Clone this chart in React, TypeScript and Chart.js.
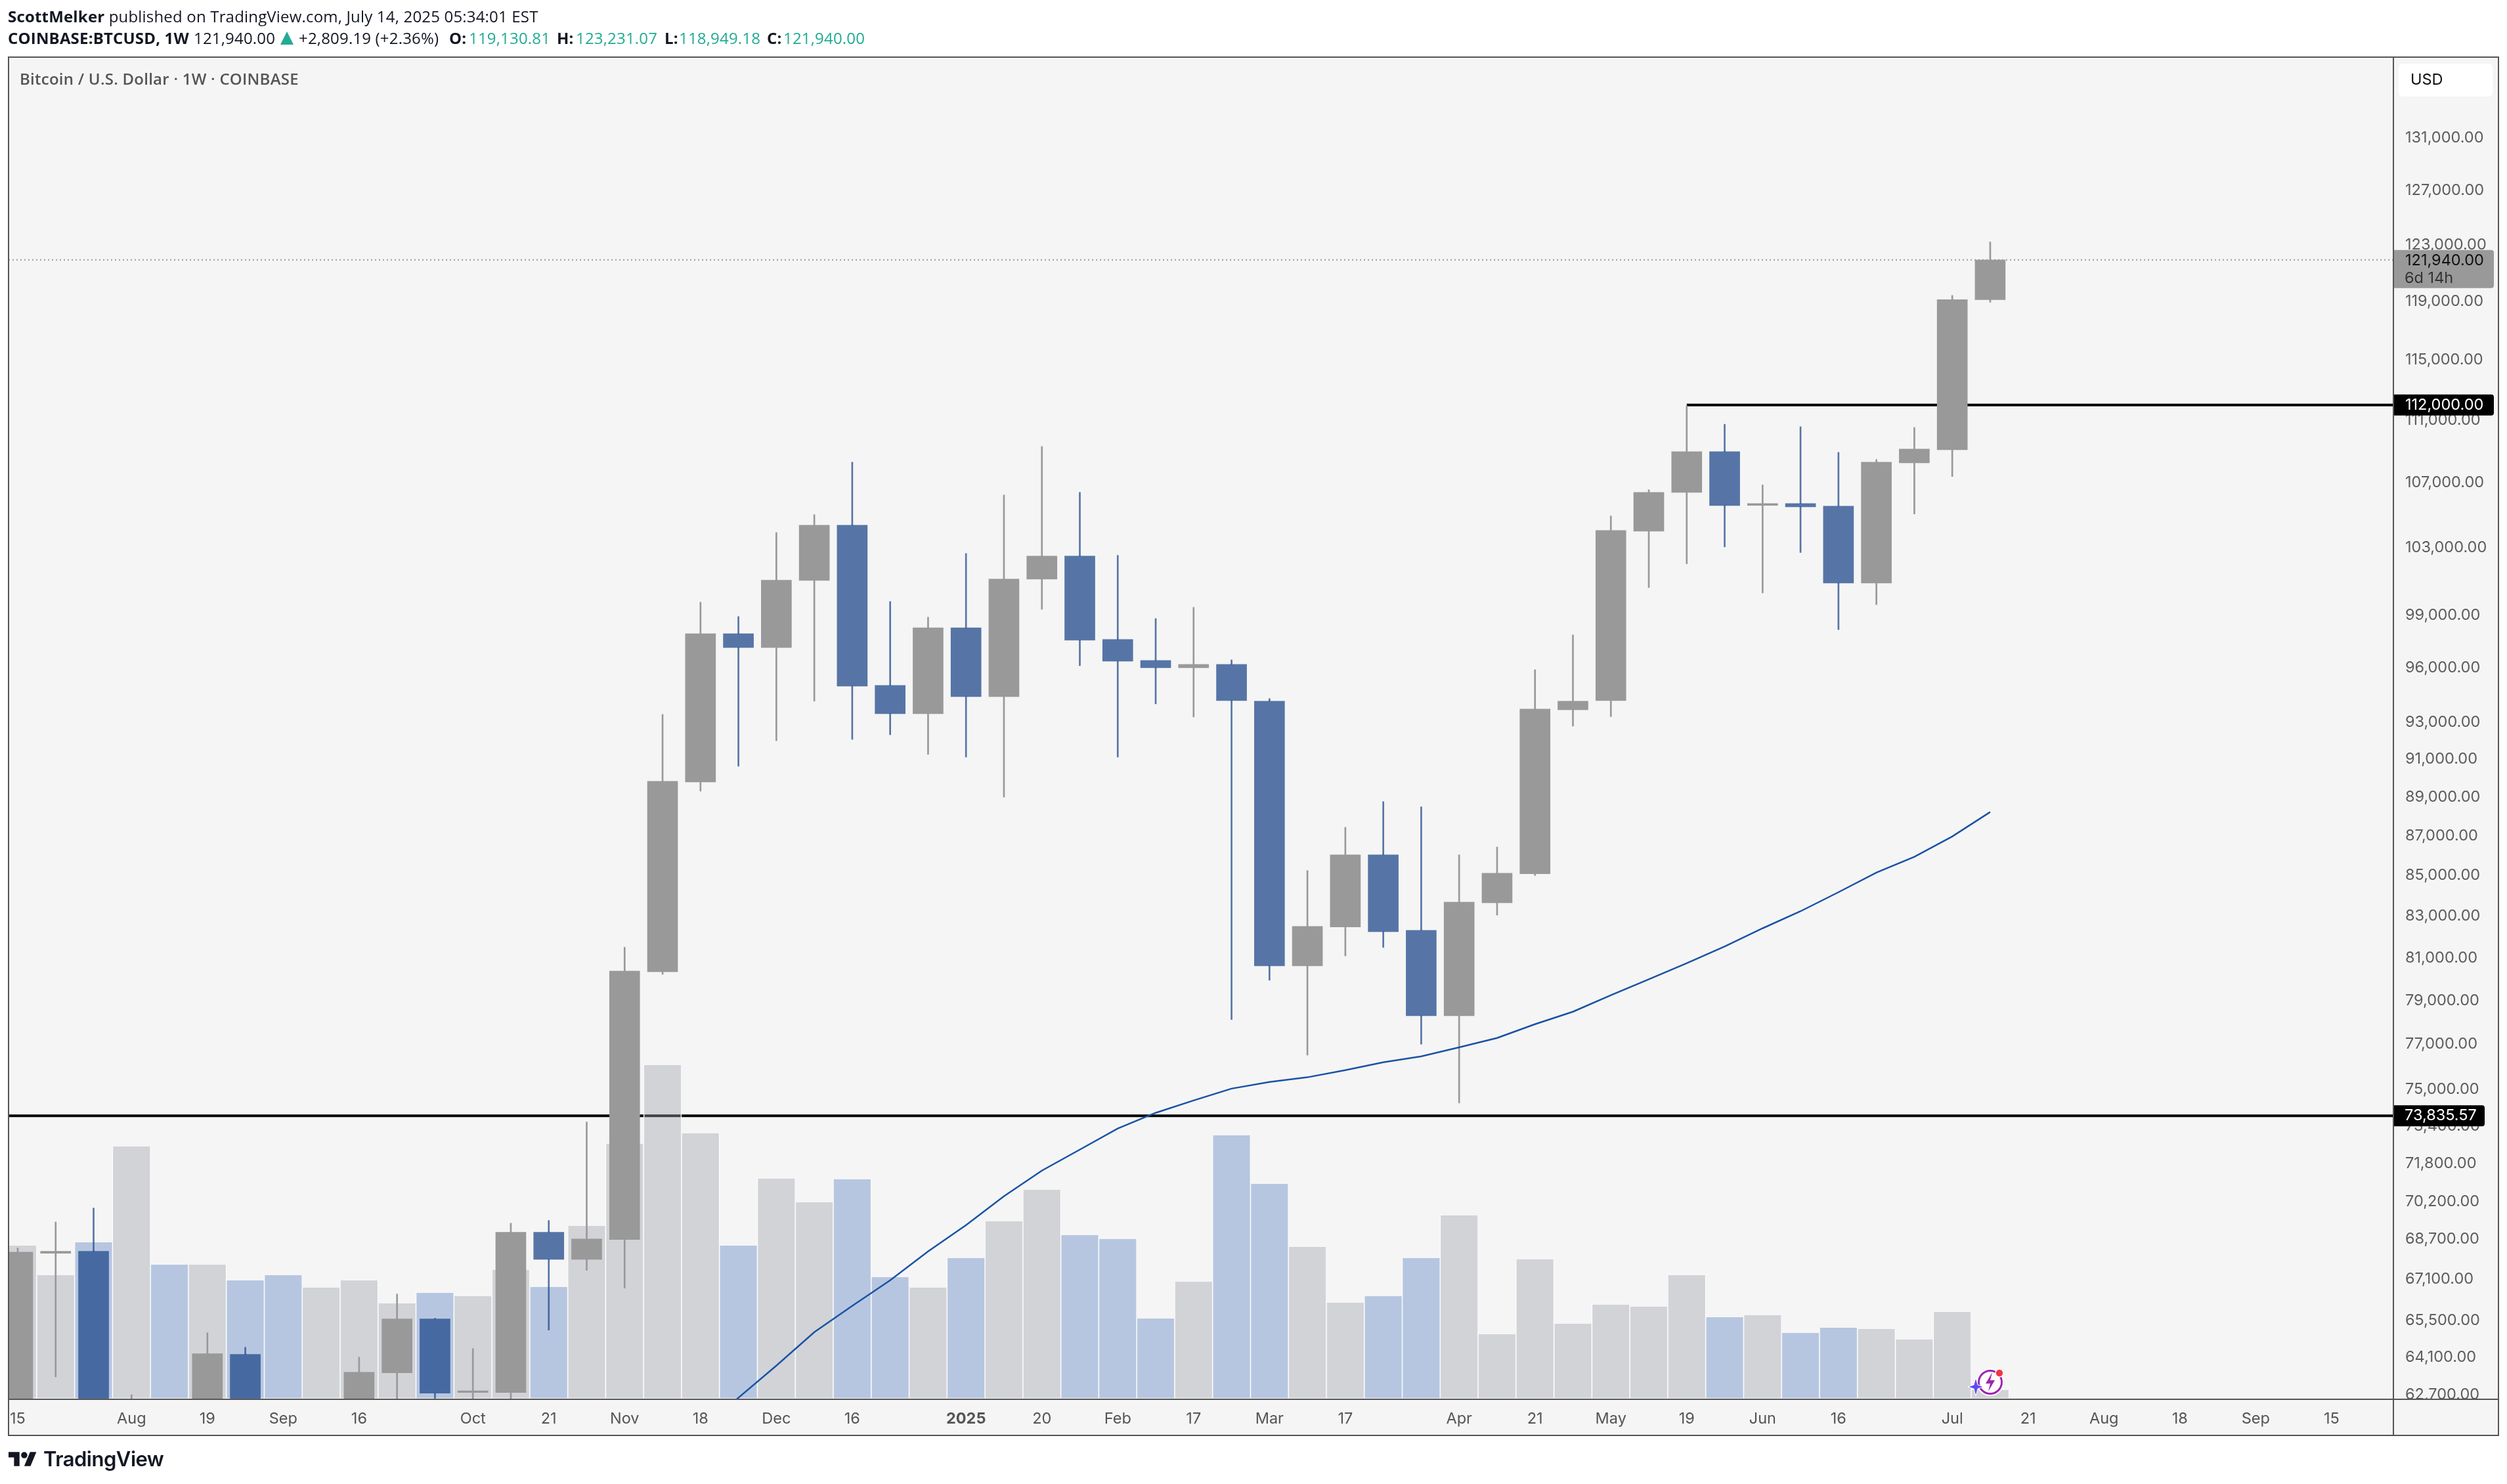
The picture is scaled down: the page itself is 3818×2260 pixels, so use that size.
import { useEffect, useRef } from "react"
import { Chart, registerables } from "chart.js"

Chart.register(...registerables)

// weekly BTCUSD candles, first one is Jul 15 2024, last one Jul 14 2025
const opens = [60800, 68115, 68195, 58700, 58900, 58700, 64196, 57300, 54150, 60000, 63506, 65545, 62780, 62780, 68962, 67875, 68670, 80340, 89793, 97945, 97156, 101050, 104377, 95018, 93459, 98290, 94399, 101130, 102505, 97613, 96418, 96012, 96195, 94145, 80620, 82474, 86040, 82313, 78295, 83655, 85090, 93675, 94181, 104016, 106407, 108975, 105593, 105715, 105550, 100896, 108265, 109098, 119130.81]
const highs = [68330, 69380, 69949, 62700, 61800, 65016, 64467, 59800, 60600, 64096, 66509, 65570, 64418, 69329, 69440, 73567, 81502, 93422, 99773, 98935, 103931, 105026, 108309, 99813, 98900, 102663, 106245, 109310, 106407, 102550, 98822, 99470, 96456, 94291, 85249, 87440, 88764, 88494, 86040, 86435, 95900, 97875, 104945, 106572, 111945, 110740, 106870, 110580, 108930, 108476, 110535, 119427, 123231.07]
const lows = [60600, 63358, 57100, 49100, 56100, 57800, 57100, 52500, 53600, 59200, 62000, 59900, 58900, 62000, 65117, 67438, 66741, 80217, 89312, 90625, 91991, 94145, 92062, 92313, 91256, 91113, 89000, 99355, 96127, 91113, 94000, 93281, 78117, 79941, 76509, 81090, 81492, 77000, 74390, 83050, 85000, 92780, 93300, 100630, 102040, 103060, 100316, 102720, 98180, 99630, 105066, 107400, 118949.18]
const closes = [68165, 68195, 58700, 58900, 58700, 64221, 57300, 54150, 60000, 63530, 65545, 62755, 62840, 68962, 67875, 68690, 80370, 89825, 97945, 97156, 101069, 104377, 94982, 93459, 98290, 94399, 101130, 102505, 97576, 96381, 96012, 96195, 94181, 80620, 82506, 86040, 82250, 78295, 83687, 85120, 93711, 94145, 104056, 106407, 108975, 105590, 105715, 105510, 100896, 108310, 109140, 119130, 121940]
const volumes = [234, 189, 239, 385, 205, 205, 181, 189, 170, 181, 146, 162, 157, 197, 171, 264, 389, 509, 405, 234, 336, 300, 335, 186, 170, 215, 271, 319, 250, 244, 123, 179, 402, 328, 232, 147, 157, 215, 280, 99, 213, 115, 144, 141, 189, 125, 128, 101, 109, 107, 91, 133, 14]

// moving average, starts at candle 18 (below the visible range until candle 19)
const maStart = 18
const maValues = [61375, 62587, 63777, 65041, 66050, 67050, 68193, 69252, 70435, 71499, 72385, 73285, 73964, 74503, 75020, 75312, 75520, 75836, 76187, 76450, 76860, 77280, 77907, 78480, 79240, 79985, 80740, 81540, 82411, 83240, 84174, 85150, 85940, 86970, 88226]

const priceTicks = [131000, 127000, 123000, 119000, 115000, 111000, 107000, 103000, 99000, 96000, 93000, 91000, 89000, 87000, 85000, 83000, 81000, 79000, 77000, 75000, 73400, 71800, 70200, 68700, 67100, 65500, 64100, 62700]
const timeTickIndex = [0, 3, 5, 7, 9, 12, 14, 16, 18, 20, 22, 25, 27, 29, 31, 33, 35, 38, 40, 42, 44, 46, 48, 51, 53, 55, 57, 59, 61]
const timeTickLabels = ["15", "Aug", "19", "Sep", "16", "Oct", "21", "Nov", "18", "Dec", "16", "2025", "20", "Feb", "17", "Mar", "17", "Apr", "21", "May", "19", "Jun", "16", "Jul", "21", "Aug", "18", "Sep", "15"]

const lastPrice = 121940
const upperLevel = 112000
const upperLevelStart = 44
const lowerLevel = 73835.57

const xMin = -0.242
const xMax = 62.63
const yMin = 62530
const yMax = 137330

const GRAY = "#999999"
const BLUE = "rgba(27, 70, 137, 0.73)"
const VOL_GRAY = "rgba(157, 160, 170, 0.4)"
const VOL_BLUE = "rgba(90, 127, 192, 0.4)"
const FRAME = "#555555"
const AXIS_FONT = "Inter, sans-serif"
const AXIS_SIZE = 23.5

const money = (v: number) =>
  v.toLocaleString("en-US", { minimumFractionDigits: 2, maximumFractionDigits: 2 })

function roundBox(ctx: CanvasRenderingContext2D, x: number, y: number, w: number, h: number, fill: string) {
  ctx.fillStyle = fill
  ctx.beginPath()
  ctx.roundRect(x, y, w, h, [0, 4, 4, 0])
  ctx.fill()
}

// background, frame and the price badges
const framePlugin = {
  id: "frame",
  beforeDraw(chart: Chart) {
    const { ctx } = chart
    ctx.save()
    ctx.fillStyle = "#f5f5f5"
    ctx.fillRect(13, 87, 3792, 2099)
    ctx.restore()
  },
  afterDraw(chart: Chart) {
    const { ctx, chartArea: a, scales } = chart
    const y = scales.y
    ctx.save()

    // covers the bottom of the lowest price label
    ctx.fillStyle = "#f5f5f5"
    ctx.fillRect(a.right + 2, a.bottom, 150, 12)

    ctx.strokeStyle = FRAME
    ctx.lineWidth = 2
    ctx.strokeRect(13, 87, 3792, 2099)
    ctx.beginPath()
    ctx.moveTo(a.right, 87)
    ctx.lineTo(a.right, 2186)
    ctx.moveTo(13, a.bottom)
    ctx.lineTo(3805, a.bottom)
    ctx.stroke()

    ctx.font = `${AXIS_SIZE}px ${AXIS_FONT}`
    ctx.textBaseline = "middle"
    ctx.textAlign = "left"

    const lastY = y.getPixelForValue(lastPrice)
    roundBox(ctx, a.right + 1, lastY - 15, 152, 58, "#999999")
    ctx.fillStyle = "#111111"
    ctx.fillText(money(lastPrice), a.right + 18, lastY + 1)
    ctx.fillStyle = "#333333"
    ctx.fillText("6d 14h", a.right + 17, lastY + 28)

    const upperY = y.getPixelForValue(upperLevel)
    roundBox(ctx, a.right + 1, upperY - 16, 152, 32, "#000000")
    ctx.fillStyle = "#ffffff"
    ctx.fillText(money(upperLevel), a.right + 18, upperY)

    const lowerY = y.getPixelForValue(lowerLevel)
    roundBox(ctx, a.right + 1, lowerY - 16, 138, 32, "#000000")
    ctx.fillStyle = "#ffffff"
    ctx.fillText(money(lowerLevel), a.right + 17, lowerY)

    // currency box
    ctx.fillStyle = "#ffffff"
    ctx.beginPath()
    ctx.roundRect(3653, 97, 143, 50, 6)
    ctx.fill()
    ctx.fillStyle = "#111111"
    ctx.fillText("USD", 3671, 122)
    ctx.restore()
  },
}

function CandleChart() {
  const canvasRef = useRef<HTMLCanvasElement>(null)

  useEffect(() => {
    if (!canvasRef.current) return

    const index = opens.map((_, i) => i)
    const candleColor = index.map((i) => (closes[i] >= opens[i] ? GRAY : BLUE))
    const volumeColor = index.map((i) => (closes[i] >= opens[i] ? VOL_GRAY : VOL_BLUE))

    const chart = new Chart(canvasRef.current, {
      type: "bar",
      data: {
        datasets: [
          {
            type: "line",
            data: [{ x: xMin, y: lastPrice }, { x: xMax, y: lastPrice }],
            borderColor: GRAY,
            borderWidth: 2,
            borderDash: [2, 4],
            pointRadius: 0,
            order: 7,
          },
          {
            type: "line",
            data: [{ x: xMin, y: lowerLevel }, { x: xMax, y: lowerLevel }],
            borderColor: "#000000",
            borderWidth: 4,
            pointRadius: 0,
            order: 6,
          },
          {
            type: "line",
            data: [{ x: upperLevelStart, y: upperLevel }, { x: xMax, y: upperLevel }],
            borderColor: "#000000",
            borderWidth: 4,
            pointRadius: 0,
            order: 6,
          },
          {
            type: "bar",
            yAxisID: "y2",
            data: index.map((i) => ({ x: i, y: volumes[i] })),
            backgroundColor: volumeColor,
            borderColor: "#ffffff",
            borderWidth: { left: 1, right: 1, bottom: 2, top: 0 },
            borderSkipped: false,
            barThickness: 57.77,
            grouped: false,
            order: 5,
          },
          // wicks are split so the see-through blue does not double up inside the body
          {
            type: "bar",
            data: index.map((i) => ({ x: i, y: [Math.max(opens[i], closes[i]), highs[i]] })),
            backgroundColor: candleColor,
            barThickness: 2,
            grouped: false,
            order: 4,
          },
          {
            type: "bar",
            data: index.map((i) => ({ x: i, y: [lows[i], Math.min(opens[i], closes[i])] })),
            backgroundColor: candleColor,
            barThickness: 2,
            grouped: false,
            order: 4,
          },
          {
            type: "bar",
            data: index.map((i) => ({ x: i, y: [opens[i], closes[i]] })),
            backgroundColor: candleColor,
            barThickness: 46,
            grouped: false,
            order: 3,
          },
          {
            type: "line",
            data: maValues.map((v, i) => ({ x: maStart + i, y: v })),
            borderColor: "#1a52a5",
            borderWidth: 2.5,
            pointRadius: 0,
            tension: 0,
            order: 1,
          },
        ],
      },
      options: {
        animation: false,
        responsive: false,
        layout: { padding: { left: 13, top: 87, right: 13, bottom: 74 } },
        plugins: { legend: { display: false }, tooltip: { enabled: false } },
        scales: {
          x: {
            type: "linear",
            offset: false,
            min: xMin,
            max: xMax,
            grid: { display: false },
            border: { display: false },
            afterBuildTicks: (scale) => {
              scale.ticks = timeTickIndex.map((value) => ({ value }))
            },
            afterFit: (scale) => {
              scale.height = 55
            },
            ticks: {
              autoSkip: false,
              maxRotation: 0,
              padding: 8,
              color: "#555555",
              font: (ctx) => ({
                family: AXIS_FONT,
                size: AXIS_SIZE,
                weight: ctx.tick && ctx.tick.label === "2025" ? "bold" : "normal",
              }),
              callback: (_value, i) => timeTickLabels[i],
            },
          },
          y: {
            type: "logarithmic",
            position: "right",
            min: yMin,
            max: yMax,
            grid: { display: false },
            border: { display: false },
            afterBuildTicks: (scale) => {
              scale.ticks = priceTicks.map((value) => ({ value }))
            },
            afterFit: (scale) => {
              scale.width = 160
            },
            ticks: {
              autoSkip: false,
              padding: 10,
              color: "#5e5e5e",
              font: { family: AXIS_FONT, size: AXIS_SIZE },
              callback: (value) => money(Number(value)),
            },
          },
          y2: {
            display: false,
            min: 0,
            max: 2044,
          },
        },
      },
      plugins: [framePlugin],
    })

    return () => {
      chart.destroy()
    }
  }, [])

  return <canvas ref={canvasRef} width={3818} height={2260} style={{ position: "absolute", left: 0, top: 0 }} />
}

const headerFont = "'Open Sans', sans-serif"
const teal = "#22ab94"

// second header row, each piece sits at its own x
const quoteRow = [
  { x: 12, text: "COINBASE:BTCUSD, 1W", bold: true },
  { x: 295, text: "121,940.00" },
  { x: 455, text: "+2,809.19 (+2.36%)" },
  { x: 684, text: "O:", bold: true },
  { x: 714, text: "119,130.81", teal: true },
  { x: 848, text: "H:", bold: true },
  { x: 877, text: "123,231.07", teal: true },
  { x: 1012, text: "L:", bold: true },
  { x: 1034, text: "118,949.18", teal: true },
  { x: 1168, text: "C:", bold: true },
  { x: 1193, text: "121,940.00", teal: true },
]

export default function App() {
  return (
    <div style={{ position: "absolute", left: 0, top: 0, width: 3818, height: 2260, background: "#ffffff", overflow: "hidden" }}>
      <CandleChart />
      <div style={{ position: "absolute", left: 12, top: 8, fontFamily: headerFont, fontSize: 24, letterSpacing: 0.18, color: "#131722", whiteSpace: "nowrap" }}>
        <b>ScottMelker</b> published on TradingView.com, July 14, 2025 05:34:01 EST
      </div>
      {quoteRow.map((p) => (
        <span
          key={p.x}
          style={{
            position: "absolute",
            left: p.x,
            top: 41,
            fontFamily: headerFont,
            fontSize: 24,
            letterSpacing: 0.18,
            fontWeight: p.bold ? 700 : 400,
            color: p.teal ? teal : "#131722",
            whiteSpace: "nowrap",
          }}
        >
          {p.text}
        </span>
      ))}
      {/* up arrow next to the last price */}
      <svg style={{ position: "absolute", left: 427, top: 48 }} width={20} height={20} viewBox="0 0 20 20">
        <path d="M10 0 L20 20 L0 20 Z" fill={teal} />
      </svg>
      <div style={{ position: "absolute", left: 30, top: 103, fontFamily: headerFont, fontSize: 24, letterSpacing: 0.25, fontWeight: 600, color: "#555555", whiteSpace: "nowrap" }}>
        Bitcoin / U.S. Dollar · 1W · COINBASE
      </div>

      {/* small badge on the last volume bar */}
      <svg style={{ position: "absolute", left: 2995, top: 2078 }} width={66} height={58} viewBox="0 0 66 58">
        <circle cx={36} cy={27} r={21} fill="#ffffff" />
        <circle cx={36} cy={27} r={17.5} fill="none" stroke="#9c27b0" strokeWidth={3} />
        <path d="M39 12 L29 29 L36 29 L33 41 L43 24 L36 24 Z" fill="#9c27b0" />
        <circle cx={50} cy={13} r={6} fill="#f23645" stroke="#ffffff" strokeWidth={1.5} />
        <path d="M14 20 L17 31 L26 34 L17 37 L14 48 L11 37 L2 34 L11 31 Z" fill="#5e4cf0" stroke="#ffffff" strokeWidth={1} />
      </svg>

      {/* TradingView mark */}
      <svg style={{ position: "absolute", left: 13, top: 2211 }} width={43} height={22} viewBox="0 4 36 18">
        <path d="M14 22H7V11H0V4h14v18zM28 22h-8l7.5-18h8L28 22z" fill="#131722" />
        <circle cx={20} cy={8} r={4} fill="#131722" />
      </svg>
      <div style={{ position: "absolute", left: 66, top: 2203, fontFamily: "Inter, sans-serif", fontSize: 31, fontWeight: 600, letterSpacing: -0.5, color: "#131722", whiteSpace: "nowrap" }}>
        TradingView
      </div>
    </div>
  )
}
